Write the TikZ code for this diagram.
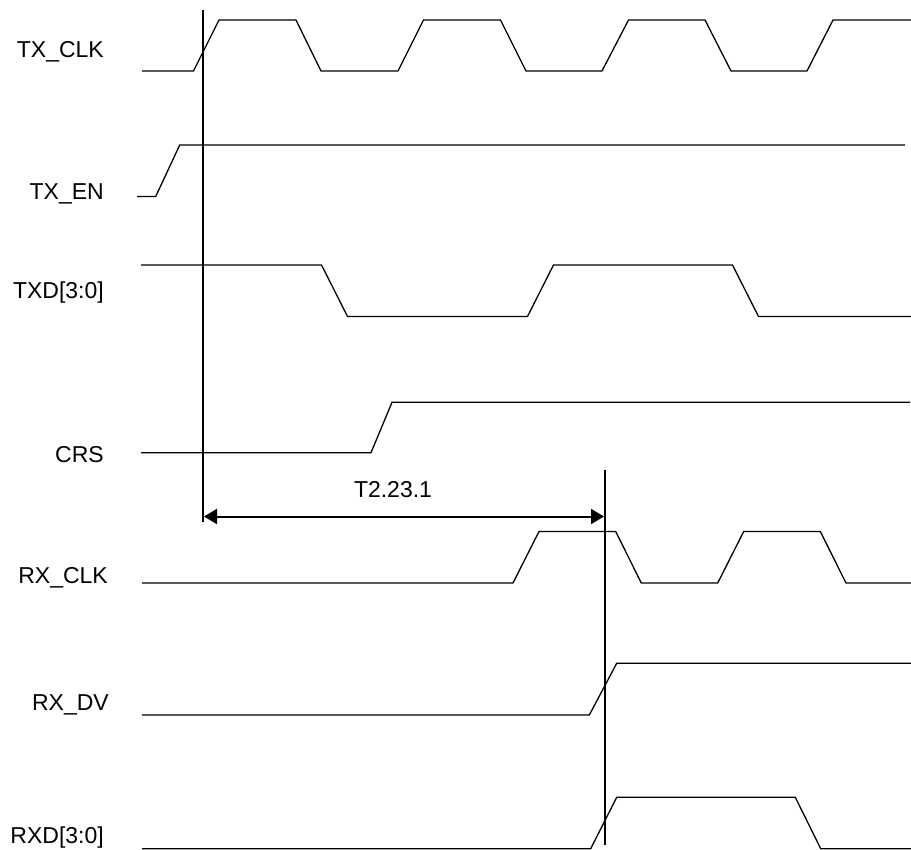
\documentclass[tikz,border=0pt]{standalone}
\usepackage{fontspec}
\setmainfont{Liberation Sans}
\usetikzlibrary{arrows.meta}
\tikzset{
  wave/.style={line width=1.3pt, black, line join=miter},
  marker/.style={line width=2pt, black},
  measure/.style={line width=2pt, black, {Triangle[length=13pt,width=15pt]}-{Triangle[length=13pt,width=15pt]}},
  siglabel/.style={anchor=base east, inner sep=0pt, font=\fontsize{23}{27}\selectfont},
  tlabel/.style={anchor=base, inner sep=0pt, font=\fontsize{23}{27}\selectfont}
}
\begin{document}
\begin{tikzpicture}[x=1pt, y=-1pt]
\useasboundingbox (0,0) rectangle (911,850);
% labels
\node[siglabel] (lclk)  at (104,58) {TX\_CLK};
\node[siglabel] (len)   at (104,200) {TX\_EN};
\node[siglabel] (ltxd)  at (104,299) {TXD[3:0]};
\node[siglabel] (lcrs)  at (104,462) {CRS};
\node[siglabel] (lrclk) at (108,583) {RX\_CLK};
\node[siglabel] (lrdv)  at (109,710) {RX\_DV};
\node[siglabel] (lrxd)  at (104,843) {RXD[3:0]};
% waveforms
\draw[wave] (142,71) -- (193.5,71) -- (219,20) -- (296,20) -- (321,71) -- (398,71) -- (423.5,20) -- (500.5,20) -- (526,71) -- (602,71) -- (628.5,20) -- (705,20) -- (731,71) -- (807,71) -- (833,20) -- (911,20);
\draw[wave] (137,196.5) -- (155.7,196.5) -- (179.7,145) -- (905,145);
\draw[wave] (141,265) -- (321.5,265) -- (347.5,316.5) -- (527.5,316.5) -- (553.5,265) -- (732.5,265) -- (758.5,316.5) -- (911,316.5);
\draw[wave] (141,452.7) -- (371,452.7) -- (392,402.3) -- (910,402.3);
\draw[wave] (142,583) -- (513,583) -- (539,531.5) -- (615.7,531.5) -- (641.3,583) -- (717.7,583) -- (743.7,531.5) -- (820.3,531.5) -- (846,583) -- (911,583);
\draw[wave] (142,715) -- (589.3,715) -- (616.7,663.3) -- (911,663.3);
\draw[wave] (142,848.7) -- (590.7,848.7) -- (616.7,797.3) -- (795.3,797.3) -- (820.7,848.7) -- (911,848.7);
% timing markers
\coordinate (m1top) at (203,10);
\coordinate (m1bot) at (203,521.7);
\coordinate (m2top) at (605,470);
\coordinate (m2bot) at (605,845);
\draw[marker] (m1top) -- (m1bot);
\draw[marker] (m2top) -- (m2bot);
\coordinate (aL) at (204,516.5);
\coordinate (aR) at (604,516.5);
\draw[measure] (aL) -- (aR);
\node[tlabel] (tl) at (393,497) {T2.23.1};
\end{tikzpicture}
\end{document}
